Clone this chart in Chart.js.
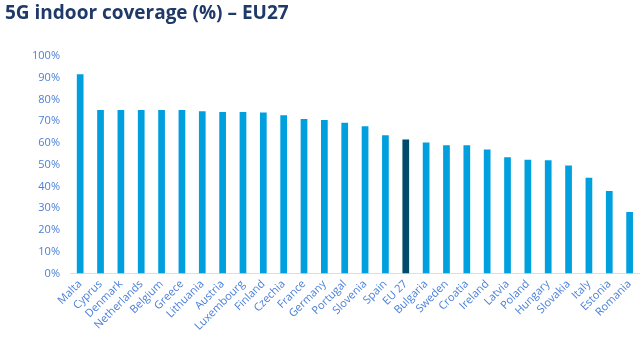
<!DOCTYPE html>
<html>
<head>
<meta charset="utf-8">
<script src="https://cdn.jsdelivr.net/npm/chart.js@4"></script>
<style>
  html, body { margin: 0; padding: 0; background: #fff; }
  #wrap { position: relative; width: 643px; height: 337px; }
  #title {
    position: absolute; left: 5px; top: -1px;
    font-family: "Open Sans", "Liberation Sans", sans-serif;
    font-weight: bold; font-size: 19px; color: #1F3A68;
  }
  canvas { position: absolute; left: 0; top: 0; }
</style>
</head>
<body>
<div id="wrap">
  <canvas id="chart" width="643" height="337"></canvas>
  <div id="title">5G indoor coverage (%) – EU27</div>
</div>
<script>
// Countries, sorted by coverage (EU 27 average highlighted)
const countries = ['Malta', 'Cyprus', 'Denmark', 'Netherlands', 'Belgium', 'Greece', 'Lithuania',
  'Austria', 'Luxembourg', 'Finland', 'Czechia', 'France', 'Germany', 'Portugal', 'Slovenia',
  'Spain', 'EU 27', 'Bulgaria', 'Sweden', 'Croatia', 'Ireland', 'Latvia', 'Poland', 'Hungary',
  'Slovakia', 'Italy', 'Estonia', 'Romania'];

// 5G indoor coverage, %
const coverage = [91.6, 75.2, 75.2, 75.2, 75.2, 75.2, 74.6, 74.3, 74.3, 74.0, 72.8, 71.0, 70.6,
  69.3, 67.7, 63.6, 61.6, 60.2, 59.0, 59.0, 57.0, 53.5, 52.3, 52.1, 49.7, 44.0, 37.9, 28.3];

const yTicks = [0, 10, 20, 30, 40, 50, 60, 70, 80, 90, 100];

const barBlue = '#00A0DE';
const euNavy = '#004B6B';
const tickBlue = '#4A7FD8';

const ctx = document.getElementById('chart');
new Chart(ctx, {
  type: 'bar',
  data: {
    labels: countries,
    datasets: [{
      data: coverage,
      backgroundColor: countries.map(c => c === 'EU 27' ? euNavy : barBlue),
      barPercentage: 0.33,
      categoryPercentage: 1.0
    }]
  },
  options: {
    responsive: false,
    animation: false,
    layout: { padding: { top: 56, right: 3, left: 0, bottom: 0 } },
    plugins: {
      legend: { display: false },
      tooltip: { enabled: false }
    },
    scales: {
      x: {
        grid: { display: false, drawTicks: false },
        border: { color: '#D6DFEE', width: 1 },
        ticks: {
          color: tickBlue,
          font: { family: 'Open Sans', size: 11 },
          minRotation: 45,
          maxRotation: 45,
          autoSkip: false,
          padding: 4
        }
      },
      y: {
        min: 0,
        max: 100,
        afterFit: scale => { scale.width = 70; },
        afterBuildTicks: scale => { scale.ticks = yTicks.map(v => ({ value: v })); },
        grid: { display: false },
        border: { display: false },
        ticks: {
          color: tickBlue,
          font: { family: 'Open Sans', size: 11 },
          padding: 2,
          callback: v => v + '%'
        }
      }
    }
  }
});
</script>
</body>
</html>
